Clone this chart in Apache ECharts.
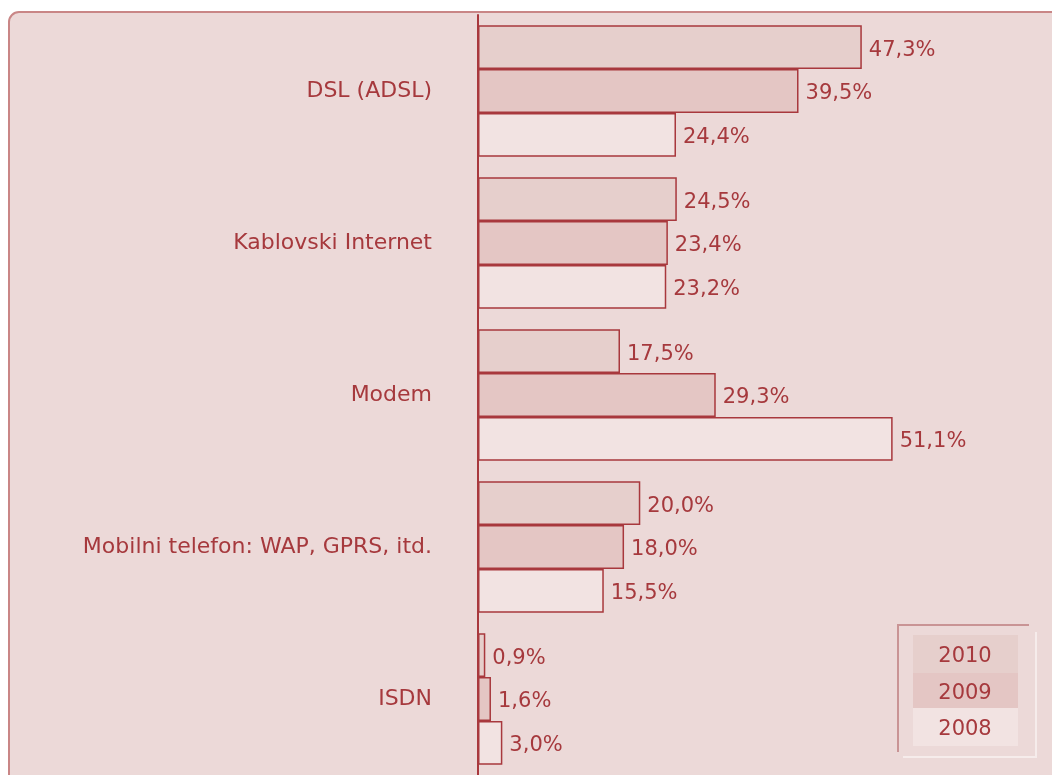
<!DOCTYPE html>
<html>
<head>
<meta charset="utf-8">
<script src="https://cdn.jsdelivr.net/npm/echarts@6/dist/echarts.min.js"></script>
<style>
html,body{margin:0;padding:0;background:#ffffff;}
#chart{width:1052px;height:775px;}
</style>
</head>
<body>
<div id="chart"></div>
<script>
const categories = ['DSL (ADSL)', 'Kablovski Internet', 'Modem', 'Mobilni telefon: WAP, GPRS, itd.', 'ISDN'];
const seriesNames = ['2010', '2009', '2008'];
const values2010 = [47.3, 24.5, 17.5, 20.0, 0.9];
const values2009 = [39.5, 23.4, 29.3, 18.0, 1.6];
const values2008 = [24.4, 23.2, 51.1, 15.5, 3.0];
const seriesValues = [values2010, values2009, values2008];

const textColor = '#a6393d';
const barBorder = '#a8383d';
const colors = ['#e6cfcc', '#e4c6c4', '#f2e3e2'];
const font = 'DejaVu Sans';

const chart = echarts.init(document.getElementById('chart'));

const legendChildren = [];
const rowTops = [635, 673, 708];
const rowHeights = [38, 35, 38];
seriesNames.forEach((n, i) => {
  legendChildren.push({
    type: 'rect', shape: {x: 913, y: rowTops[i], width: 105, height: rowHeights[i]},
    style: {fill: colors[i]}, z: 10
  });
  legendChildren.push({
    type: 'text', x: 965, y: rowTops[i] + rowHeights[i] / 2 + 3,
    style: {text: n, fill: textColor, font: '21px "DejaVu Sans"', align: 'center', verticalAlign: 'middle'}, z: 11
  });
});

chart.setOption({
  animation: false,
  backgroundColor: '#ffffff',
  graphic: [
    {type: 'rect', z: -10, silent: true,
     shape: {x: 9, y: 12, width: 1100, height: 800, r: [10, 0, 0, 0]},
     style: {fill: '#ecd9d8', stroke: '#c98686', lineWidth: 2}},
    {type: 'rect', z: 9, silent: true, shape: {x: 898, y: 625, width: 138, height: 131},
     style: {fill: '#ecd9d8'}},
    {type: 'polyline', z: 9, silent: true, shape: {points: [[898, 752], [898, 625], [1029, 625]]},
     style: {stroke: '#c99495', lineWidth: 2, fill: null}},
    {type: 'polyline', z: 9, silent: true, shape: {points: [[903, 757], [1036, 757], [1036, 632]]},
     style: {stroke: '#f6eceb', lineWidth: 2, fill: null}},
    {type: 'group', children: legendChildren}
  ],
  grid: {left: 478, top: 15, width: 568, height: 762, containLabel: false},
  xAxis: {
    type: 'value', min: 0, max: 70,
    axisLine: {show: false}, axisTick: {show: false}, axisLabel: {show: false}, splitLine: {show: false}
  },
  yAxis: {
    type: 'category', data: categories, inverse: true,
    axisLine: {show: true, onZero: false, lineStyle: {color: barBorder, width: 2}},
    axisTick: {show: false},
    axisLabel: {color: textColor, fontFamily: font, fontSize: 22, margin: 46, align: 'right', padding: [8, 0, 0, 0]}
  },
  series: seriesNames.map((n, i) => ({
    name: n, type: 'bar', data: seriesValues[i],
    barGap: '0%', barCategoryGap: '13.5%',
    itemStyle: {color: colors[i], borderColor: barBorder, borderWidth: 1.5},
    label: {
      show: true, position: 'right', distance: 7, color: textColor, fontFamily: font, fontSize: 21,
      offset: [0, 3],
      formatter: p => p.value.toFixed(1).replace('.', ',') + '%'
    }
  }))
});
</script>
</body>
</html>
